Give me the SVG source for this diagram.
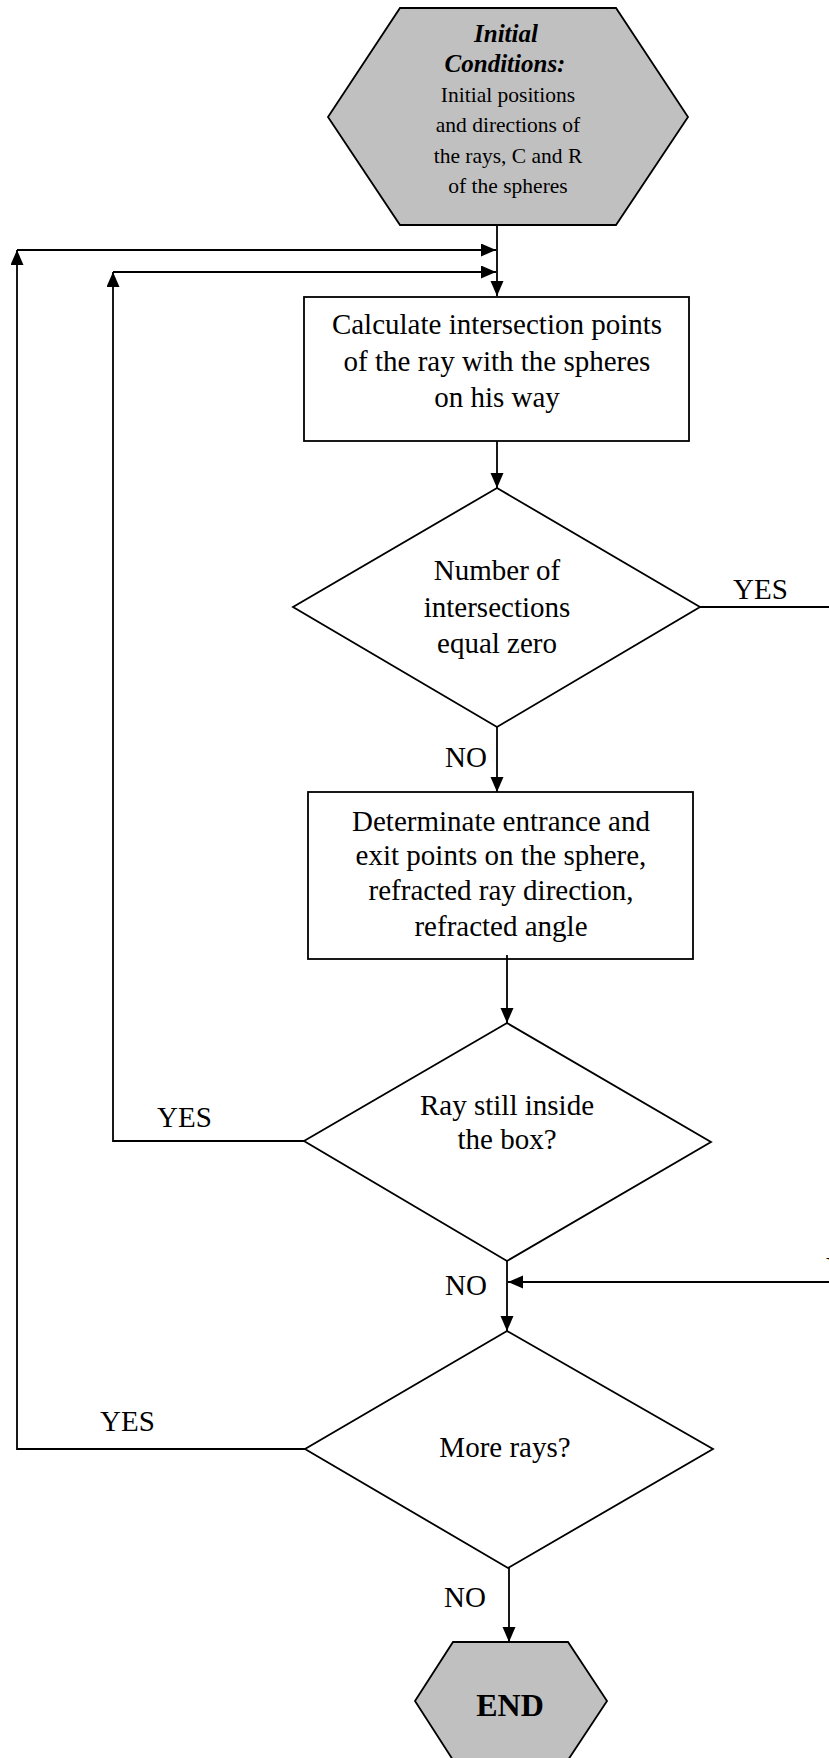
<svg xmlns="http://www.w3.org/2000/svg" width="829" height="1758" viewBox="0 0 829 1758">
<defs>
<style>
.shape{fill:#ffffff;stroke:#000;stroke-width:1.8}
.term{fill:#c0c0c0;stroke:#000;stroke-width:1.8}
.t{font-family:"Liberation Serif","Times New Roman",serif;font-size:29px;fill:#000;text-anchor:middle}
.ts{font-family:"Liberation Serif","Times New Roman",serif;font-size:21.5px;fill:#000;text-anchor:middle}
.tbi{font-family:"Liberation Serif","Times New Roman",serif;font-size:25px;font-weight:bold;font-style:italic;fill:#000;text-anchor:middle}
.tb{font-family:"Liberation Serif","Times New Roman",serif;font-size:32px;font-weight:bold;fill:#000;text-anchor:middle}
.lbl{font-family:"Liberation Serif","Times New Roman",serif;font-size:29px;fill:#000}
.c{fill:none;stroke:#000;stroke-width:1.8}
</style>
<marker id="ah" markerUnits="userSpaceOnUse" markerWidth="16" markerHeight="14" refX="15" refY="6.5" orient="auto">
<path d="M0,0 L15,6.5 L0,13 z" fill="#000"/>
</marker>
</defs>

<g id="connectors">
<path class="c" d="M497,225 V296" marker-end="url(#ah)"/>
<path class="c" d="M17,250 H496" marker-end="url(#ah)"/>
<path class="c" d="M113,272 H496" marker-end="url(#ah)"/>
<path class="c" d="M497,441 V488" marker-end="url(#ah)"/>
<path class="c" d="M700,607 H829"/>
<path class="c" d="M497,727 V792" marker-end="url(#ah)"/>
<path class="c" d="M507,955 V1023" marker-end="url(#ah)"/>
<path class="c" d="M304,1141 H113 V272" marker-end="url(#ah)"/>
<path class="c" d="M507,1261 V1331" marker-end="url(#ah)"/>
<path class="c" d="M829,1282 H508" marker-end="url(#ah)"/>
<path class="c" d="M305,1449 H17 V250" marker-end="url(#ah)"/>
<path class="c" d="M509,1568 V1642" marker-end="url(#ah)"/>
<text class="lbl" x="733" y="599">YES</text>
<text class="lbl" x="445" y="767">NO</text>
<text class="lbl" x="157" y="1127">YES</text>
<text class="lbl" x="445" y="1295">NO</text>
<text class="lbl" x="826" y="1277">YES</text>
<text class="lbl" x="100" y="1431">YES</text>
<text class="lbl" x="444" y="1607">NO</text>
</g>

<g id="start">
<polygon class="term" points="400,8 616,8 688,117 616,225 400,225 328,117"/>
<text class="tbi" x="506" y="42">Initial</text>
<text class="tbi" x="505" y="72">Conditions:</text>
<text class="ts" x="508" y="102">Initial positions</text>
<text class="ts" x="508" y="132">and directions of</text>
<text class="ts" x="508" y="163">the rays, C and R</text>
<text class="ts" x="508" y="193">of the spheres</text>
</g>

<g id="calc">
<rect class="shape" x="304" y="297" width="385" height="144"/>
<text class="t" x="497" y="334">Calculate intersection points</text>
<text class="t" x="497" y="371">of the ray with the spheres</text>
<text class="t" x="497" y="407">on his way</text>
</g>

<g id="zero">
<polygon class="shape" points="497,488 700,607 497,727 293,607"/>
<text class="t" x="497" y="580">Number of</text>
<text class="t" x="497" y="617">intersections</text>
<text class="t" x="497" y="653">equal zero</text>
</g>

<g id="determine">
<rect class="shape" x="308" y="792" width="385" height="167"/>
<text class="t" x="501" y="831">Determinate entrance and</text>
<text class="t" x="501" y="865">exit points on the sphere,</text>
<text class="t" x="501" y="900">refracted ray direction,</text>
<text class="t" x="501" y="936">refracted angle</text>
</g>
<path class="c" d="M507,955 V959"/>

<g id="inside">
<polygon class="shape" points="507,1023 711,1142 507,1261 304,1141"/>
<text class="t" x="507" y="1115">Ray still inside</text>
<text class="t" x="507" y="1149">the box?</text>
</g>

<g id="more">
<polygon class="shape" points="507,1331 713,1449 508,1568 305,1449"/>
<text class="t" x="505" y="1457">More rays?</text>
</g>

<g id="end">
<polygon class="term" points="453,1642 568,1642 607,1701 568,1760 453,1760 415,1701"/>
<text class="tb" x="510" y="1716">END</text>
</g>
</svg>
